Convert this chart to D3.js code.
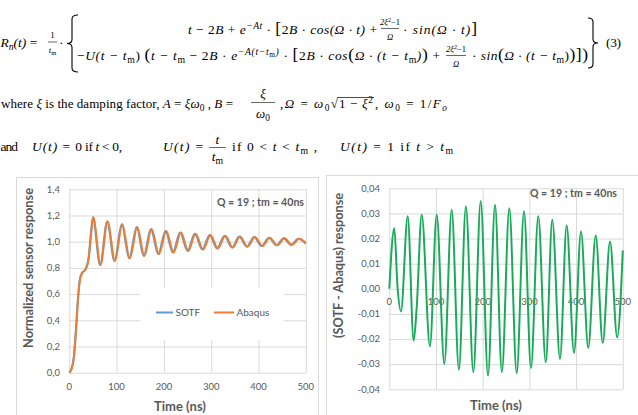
<!DOCTYPE html>
<html>
<head>
<meta charset="utf-8">
<script src="https://cdn.jsdelivr.net/npm/d3@7"></script>
<style>
  html, body { margin: 0; padding: 0; background: #fff; }
  svg { display: block; }
</style>
</head>
<body>
<div id="fig"></div>
<script>
// step response, Abaqus (rise then peaks / troughs)
const abaqusTime = [0, 5, 10, 15, 19, 22.6, 27.5, 34.6, 41.6, 46, 50.7, 66, 81, 96.6, 112, 128, 143.8, 158.6,
  174, 189.6, 205, 220.5, 236, 251.5, 267, 283, 298.5, 314, 330, 345.5, 361, 377, 392.5, 408, 424, 439.5,
  455, 470.5, 486, 500];
const abaqusValue = [0, 0.03, 0.12, 0.36, 0.58, 0.708, 0.763, 0.789, 0.885, 1.05, 1.186, 0.822, 1.155, 0.853,
  1.133, 0.872, 1.113, 0.89, 1.096, 0.905, 1.082, 0.918, 1.07, 0.93, 1.06, 0.94, 1.052, 0.948, 1.045, 0.955,
  1.04, 0.962, 1.035, 0.967, 1.03, 0.972, 1.026, 0.976, 1.022, 0.99];

// SOTF, same shape, a hair earlier
const sotfTime = [0, 4.5, 9.5, 14.5, 18.5, 22, 27, 34, 41, 45.2, 49.8, 65, 80, 95.4, 110.8, 126.6, 142.4, 157.2,
  172.4, 188, 203.3, 218.8, 234.3, 249.8, 265.2, 281.2, 296.7, 312.2, 328.2, 343.7, 359.2, 375.2, 390.7, 406.2,
  422.2, 437.7, 453.2, 468.7, 484.2, 500];
const sotfValue = [0, 0.03, 0.12, 0.36, 0.58, 0.708, 0.763, 0.789, 0.885, 1.05, 1.186, 0.822, 1.155, 0.853,
  1.133, 0.872, 1.113, 0.89, 1.096, 0.905, 1.082, 0.918, 1.07, 0.93, 1.06, 0.94, 1.052, 0.948, 1.045, 0.955,
  1.04, 0.962, 1.035, 0.967, 1.03, 0.972, 1.026, 0.976, 1.022, 0.985];

// SOTF - Abaqus (right chart)
const diffTime = [0, 10.7, 17.5, 25, 39.4, 52.2, 58.6, 69.4, 87, 101.5, 117.8, 133.6, 149, 164, 180, 195.7,
  211.4, 226.4, 241, 257, 272.8, 288.4, 303.4, 319, 335, 349, 365.5, 379.8, 395.5, 410.5, 426, 442, 457,
  472.6, 488, 500];
const diffValue = [0, 0.0241, 0.001, -0.009, 0.0289, -0.0206, -0.0076, 0.0295, -0.0229, 0.0295, -0.0299,
  0.0315, -0.0322, 0.0329, -0.0332, 0.0349, -0.0345, 0.0335, -0.0332, 0.0321, -0.0336, 0.0309, -0.0315,
  0.0289, -0.0292, 0.0275, -0.0279, 0.0252, -0.0255, 0.0228, -0.0235, 0.0212, -0.0215, 0.0188, -0.0193, 0.0153];

const timeTicks = [0, 100, 200, 300, 400, 500];
const respTicks = [0, 0.2, 0.4, 0.6, 0.8, 1.0, 1.2, 1.4];
const diffTicks = [-0.04, -0.03, -0.02, -0.01, 0, 0.01, 0.02, 0.03, 0.04];
const seriesNames = ["SOTF", "Abaqus"];
const note = "Q = 19 ; tm = 40ns";

const W = 638, H = 415;
const serif = "'Liberation Serif', 'DejaVu Serif', serif";
const sans = "Lato, Carlito, 'Open Sans', sans-serif";
const grey = "#595959", gridC = "#d9d9d9";
const fr = d3.formatLocale({ decimal: ",", thousands: " ", grouping: [3], currency: ["", ""], minus: "-" });

const svg = d3.select("#fig").append("svg").attr("width", W).attr("height", H);
svg.append("rect").attr("width", W).attr("height", H).attr("fill", "#fff");

// ---------- equation block ----------
const eq = svg.append("g").attr("fill", "#000").attr("font-family", serif);

function mathText(x, y, runs, size, width) {
  const t = eq.append("text").attr("x", x).attr("y", y).attr("font-size", size);
  let off = 0;
  runs.forEach(([s, st = ""]) => {
    const target = st.includes("p") ? -0.38 * size : st.includes("q") ? -0.2 * size : st.includes("b") ? 0.22 * size : 0;
    const ts = t.append("tspan").text(s).attr("dy", target - off);
    off = target;
    if (st.includes("i")) ts.attr("font-style", "italic");
    if (st.includes("p") || st.includes("b")) ts.attr("font-size", size * 0.72);
    if (st.includes("q")) ts.attr("font-size", size * 0.55);
    if (st.includes("L")) ts.attr("font-size", size * 1.3);
  });
  if (width) t.attr("textLength", width).attr("lengthAdjust", "spacing");
  return t;
}

function frac(cx, yNum, yBar, yDen, num, den, size, barW) {
  mathText(cx, yNum, num, size).attr("text-anchor", "middle");
  mathText(cx, yDen, den, size).attr("text-anchor", "middle");
  eq.append("line").attr("x1", cx - barW / 2).attr("x2", cx + barW / 2)
    .attr("y1", yBar).attr("y2", yBar).attr("stroke", "#000").attr("stroke-width", 0.6);
}

function brace(xt, xb, xr, top, bottom) {
  const m = (top + bottom) / 2, r = 4;
  const p = `M${xr},${top} Q${xb},${top} ${xb},${top + r} L${xb},${m - r} Q${xb},${m} ${xt},${m}
    Q${xb},${m} ${xb},${m + r} L${xb},${bottom - r} Q${xb},${bottom} ${xr},${bottom}`;
  eq.append("path").attr("d", p).attr("fill", "none").attr("stroke", "#000").attr("stroke-width", 1.1);
}

const fs = 13.5, fs3 = 13;
// R_n(t) = 1/tm · { ... } (3)
mathText(0.5, 47, [["R", "i"], ["n", "bi"], ["(t)", "i"], [" ="]], fs);
frac(52.5, 38, 42, 53, [["1"]], [["t", "i"], ["m", "b"]], 9, 9);
mathText(59, 47, [["·"]], fs);
brace(67, 72, 78, 15, 72);
brace(598, 593, 588, 18, 68);
mathText(606, 47, [["(3)"]], fs, 15);

// line 1
mathText(188, 34, [["t", "i"], [" − 2"], ["B", "i"], [" + "], ["e", "i"], ["−At", "pi"], [" · "], ["[", "L"],
  ["2"], ["B", "i"], [" · "], ["cos(Ω · t)", "i"], [" + "]], fs, 189);
frac(390, 25, 28.5, 40, [["2ξ", "i"], ["2", "p"], ["−1"]], [["Ω", "i"]], 8.5, 18);
mathText(403, 34, [["· "], ["sin(Ω · t)", "i"], ["]", "L"]], fs, 74);

// line 2
mathText(77, 60, [["−"], ["U", "i"], ["(t − t", "i"], ["m", "b"], [")  "], ["(", "L"], ["t − t", "i"], ["m", "b"],
  [" − 2"], ["B", "i"], [" · "], ["e", "i"], ["−A(t−t", "pi"], ["m", "q"], [")", "pi"], [" · "], ["[", "L"],
  ["2"], ["B", "i"], [" · "], ["cos", "i"], ["(", "L"], ["Ω · (t − t", "i"], ["m", "b"], [")", "i"], [")", "L"],
  [" + "]], fs, 363);
frac(456, 52, 55.5, 67, [["2ξ", "i"], ["2", "p"], ["−1"]], [["Ω", "i"]], 8.5, 20);
mathText(472, 60, [["· "], ["sin", "i"], ["(", "L"], ["Ω · (t − t", "i"], ["m", "b"], [")"], [")", "L"],
  ["]", "L"], [")", "L"]], fs, 116);

// line 3
mathText(1, 108, [["where "], ["ξ", "i"], [" is the damping factor, "], ["A", "i"], [" = "], ["ξω", "i"],
  ["0", "b"], [" , "], ["B", "i"], [" ="]], fs3, 232);
frac(263, 98, 102.5, 118, [["ξ", "i"]], [["ω", "i"], ["0", "b"]], fs3, 24);
mathText(280, 108, [[" ,"], ["Ω", "i"], [" = "], ["ω", "i"], ["0", "b"], ["√"]], fs3, 58);
mathText(339, 108, [["1 − "], ["ξ", "i"], ["2", "p"]], fs3, 34);
eq.append("line").attr("x1", 337).attr("x2", 374).attr("y1", 97.5).attr("y2", 97.5)
  .attr("stroke", "#000").attr("stroke-width", 0.7);
mathText(375, 108, [[" , "], ["ω", "i"], ["0", "b"], [" = 1/"], ["F", "i"], ["o", "bi"]], fs3, 72);

// line 4
mathText(0.5, 151, [["and"]], fs, 17.5);
mathText(32, 151, [["U", "i"], ["(t)", "i"], [" =  0"]], fs, 50);
mathText(85, 151, [["if "], ["t", "i"], [" < 0,"]], fs, 37);
mathText(163, 151, [["U", "i"], ["(t)", "i"], [" ="]], fs, 40);
frac(217.5, 144, 147.5, 161, [["t", "i"]], [["t", "i"], ["m", "b"]], fs, 17);
mathText(232, 151, [["if  0 < "], ["t", "i"], [" < "], ["t", "i"], ["m", "b"], [" ,"]], fs, 85);
mathText(340, 151, [["U", "i"], ["(t)", "i"], [" = 1  if  "], ["t", "i"], [" > "], ["t", "i"], ["m", "b"]], fs, 113);

// ---------- charts ----------
function chart(cfg) {
  const g = svg.append("g").attr("font-family", sans);
  g.append("rect").attr("x", cfg.frame[0]).attr("y", cfg.frame[1]).attr("width", cfg.frame[2])
    .attr("height", cfg.frame[3]).attr("fill", "#fff").attr("stroke", gridC).attr("stroke-width", 1);

  const x = d3.scaleLinear().domain([0, 500]).range(cfg.xr);
  const y = d3.scaleLinear().domain(cfg.yd).range(cfg.yr);

  g.append("g").attr("transform", `translate(${cfg.xr[0]},0)`)
    .call(d3.axisLeft(y).tickValues(cfg.yTicks).tickSize(-(cfg.xr[1] - cfg.xr[0])).tickFormat(""))
    .call(a => a.select(".domain").remove())
    .call(a => a.selectAll("line").attr("stroke", gridC));
  g.append("g").attr("transform", `translate(0,${cfg.yr[0]})`)
    .call(d3.axisBottom(x).tickValues(timeTicks).tickSize(-(cfg.yr[0] - cfg.yr[1])).tickFormat(""))
    .call(a => a.select(".domain").remove())
    .call(a => a.selectAll("line").attr("stroke", gridC));

  g.selectAll(".ylab").data(cfg.yTicks).enter().append("text")
    .attr("x", cfg.yLabX).attr("y", d => y(d) + 3.3).attr("text-anchor", "end")
    .attr("font-size", 9.5).attr("fill", grey).text(cfg.fmt);
  g.selectAll(".xlab").data(timeTicks).enter().append("text")
    .attr("x", d => x(d)).attr("y", cfg.xLabY).attr("text-anchor", "middle")
    .attr("font-size", 9.5).attr("fill", grey).text(d => d);

  g.append("text").attr("x", cfg.xTitle[0]).attr("y", cfg.xTitle[1]).attr("text-anchor", "middle")
    .attr("font-size", 13).attr("font-weight", "bold").attr("fill", grey).text("Time (ns)");
  g.append("text").attr("transform", `translate(${cfg.yTitle[0]},${cfg.yTitle[1]}) rotate(-90)`)
    .attr("text-anchor", "middle").attr("font-size", 13).attr("font-weight", "bold").attr("fill", grey)
    .attr("textLength", cfg.yTitle[2]).attr("lengthAdjust", "spacingAndGlyphs").text(cfg.yTitleText);
  g.append("text").attr("x", cfg.note[0]).attr("y", cfg.note[1]).attr("font-size", 10.5)
    .attr("font-weight", "bold").attr("fill", grey).attr("textLength", 87).attr("lengthAdjust", "spacingAndGlyphs")
    .text(note);
  return { g, x, y };
}

// left chart
const L = chart({
  frame: [16.5, 177.5, 302, 260], xr: [69.3, 305.8], yd: [0, 1.4], yr: [372.7, 189.3],
  yTicks: respTicks, fmt: d => fr.format(".1f")(d), yLabX: 60, xLabY: 389.5,
  xTitle: [180, 411], yTitle: [32.5, 268, 160], yTitleText: "Normalized sensor response", note: [217, 206]
});
// legend box hides the grid behind it
L.g.append("rect").attr("x", 140).attr("y", 288).attr("width", 144).attr("height", 52).attr("fill", "#fff");
const legend = [
  { name: seriesNames[0], color: "#5b9bd5", x0: 156, x1: 173, tx: 175.5 },
  { name: seriesNames[1], color: "#ed7d31", x0: 214, x1: 234, tx: 236.5 }
];
legend.forEach(d => {
  L.g.append("line").attr("x1", d.x0).attr("x2", d.x1).attr("y1", 312.5).attr("y2", 312.5)
    .attr("stroke", d.color).attr("stroke-width", 2);
  L.g.append("text").attr("x", d.tx).attr("y", 316).attr("font-size", 10).attr("fill", grey).text(d.name);
});
const lineL = (tArr, vArr) => d3.line().x(i => L.x(tArr[i])).y(i => L.y(vArr[i])).curve(d3.curveMonotoneX);
L.g.append("path").attr("d", lineL(sotfTime, sotfValue)(d3.range(sotfTime.length)))
  .attr("fill", "none").attr("stroke", "#5b9bd5").attr("stroke-width", 2);
L.g.append("path").attr("d", lineL(abaqusTime, abaqusValue)(d3.range(abaqusTime.length)))
  .attr("fill", "none").attr("stroke", "#ed7d31").attr("stroke-width", 2);

// right chart
const R = chart({
  frame: [326.5, 175.5, 330, 260], xr: [389.3, 622.8], yd: [-0.04, 0.04], yr: [389.3, 188.3],
  yTicks: diffTicks, fmt: d => fr.format(".2f")(d), yLabX: 380, xLabY: 305,
  xTitle: [496, 410], yTitle: [343, 265.5, 145], yTitleText: "(SOTF - Abaqus) response", note: [530, 197]
});
const lineR = d3.line().x(i => R.x(diffTime[i])).y(i => R.y(diffValue[i])).curve(d3.curveMonotoneX);
R.g.append("path").attr("d", lineR(d3.range(diffTime.length)))
  .attr("fill", "none").attr("stroke", "#1aab5a").attr("stroke-width", 2);
</script>
</body>
</html>
